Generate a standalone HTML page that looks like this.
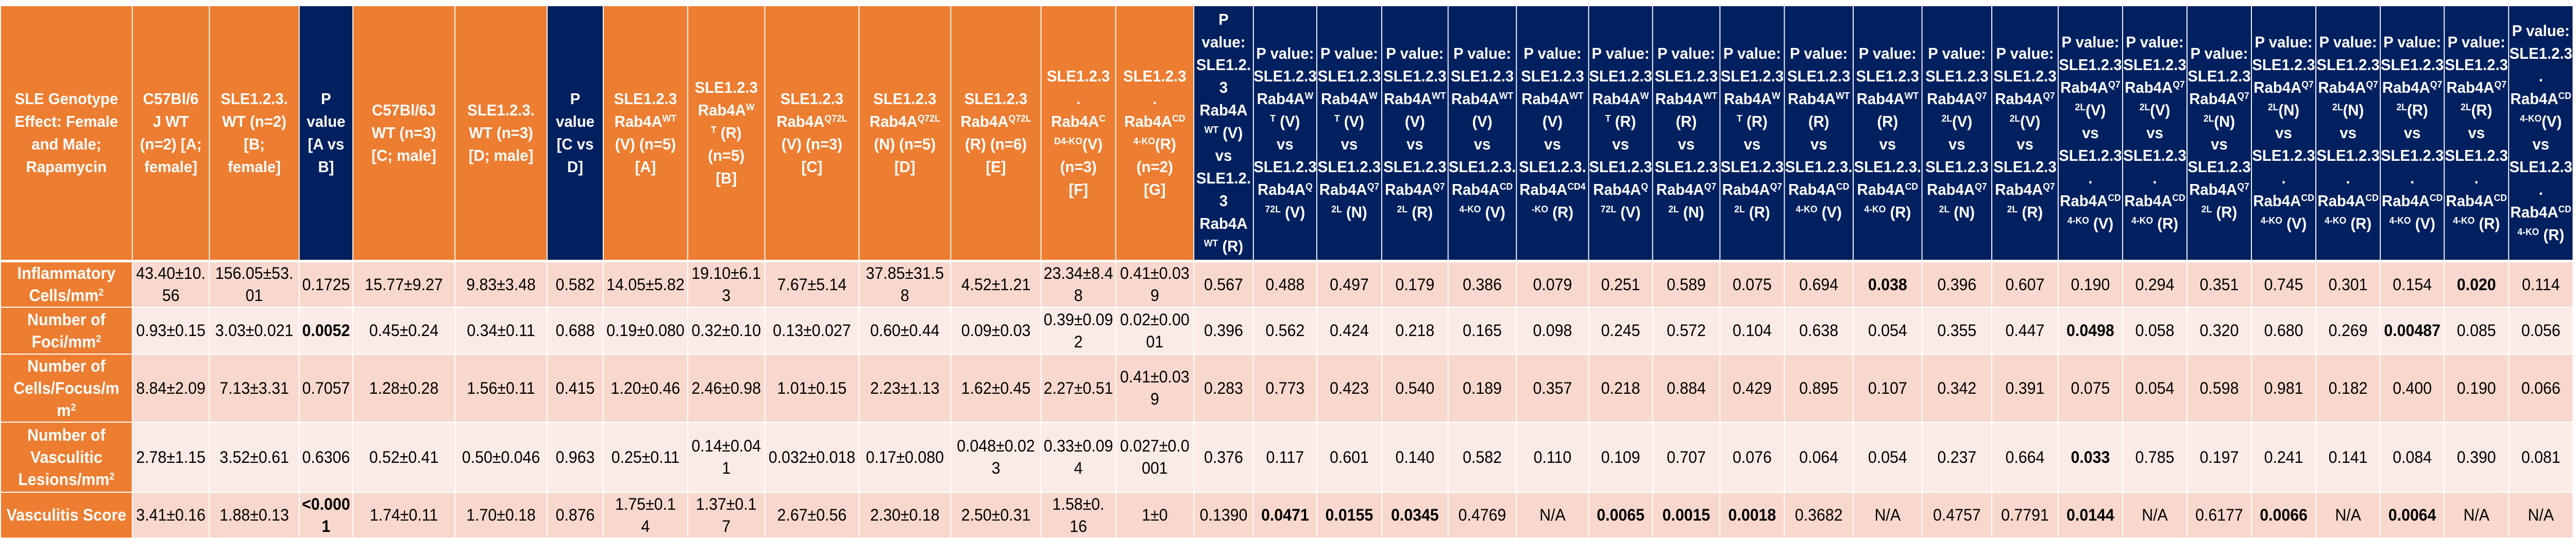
<!DOCTYPE html>
<html><head><meta charset="utf-8">
<style>
html{margin:0;padding:0;overflow:hidden;background:#fff;}
body{margin:0;padding:0;width:100vw;height:100vh;position:relative;overflow:hidden;background:#fff;font-family:"Liberation Sans",Arial,sans-serif;}
#wrap{position:absolute;left:0;top:0;width:5278px;height:1069px;overflow:hidden;transform-origin:0 0;}
.g{position:absolute;left:2px;top:12px;width:5271px;height:1045px;overflow:hidden;display:grid;column-gap:2px;row-gap:2px;
grid-template-columns:268px 156px 182px 108px 207px 187px 113px 171px 156px 191px 186px 183px 151px 158px 120px 128px 131px 134px 138px 146px 129px 136px 130px 139px 139px 141px 134px 130px 130px 130px 130px 130px 129px 130px 130px;
grid-template-rows:492px 1px 86px 89px 130px 134px 87px;}
.g>div{display:flex;align-items:center;justify-content:center;text-align:center;white-space:nowrap;min-width:0;overflow:visible;}
.g>div>span{display:block;}
.h{color:#fff;font-weight:bold;font-size:31px;line-height:44px;}
.o{background:#ED7D31;}
.n{background:#002060;}
.sp{grid-column:1/-1;background:#fff;}
.l{background:#ED7D31 !important;color:#fff;font-weight:bold;font-size:32px;line-height:43px;}
.a,.b{font-size:32px;line-height:43px;color:#000;}
.a{background:#F8D8CE;}
.b{background:#FBEBE6;}
sup{font-size:0.6em;line-height:0;vertical-align:0.55em;}
</style></head><body><div id="wrap">
<div class="g">
<div class="h o"><span>SLE Genotype<br>Effect: Female<br>and Male;<br>Rapamycin</span></div>
<div class="h o"><span>C57Bl/6<br>J WT<br>(n=2) [A;<br>female]</span></div>
<div class="h o"><span>SLE1.2.3.<br>WT (n=2)<br>[B;<br>female]</span></div>
<div class="h n"><span>P<br>value<br>[A vs<br>B]</span></div>
<div class="h o"><span>C57Bl/6J<br>WT (n=3)<br>[C; male]</span></div>
<div class="h o"><span>SLE1.2.3.<br>WT (n=3)<br>[D; male]</span></div>
<div class="h n"><span>P<br>value<br>[C vs<br>D]</span></div>
<div class="h o"><span>SLE1.2.3<br>Rab4A<sup>WT</sup><br>(V) (n=5)<br>[A]</span></div>
<div class="h o"><span>SLE1.2.3<br>Rab4A<sup>W</sup><br><sup>T</sup> (R)<br>(n=5)<br>[B]</span></div>
<div class="h o"><span>SLE1.2.3<br>Rab4A<sup>Q72L</sup><br>(V) (n=3)<br>[C]</span></div>
<div class="h o"><span>SLE1.2.3<br>Rab4A<sup>Q72L</sup><br>(N) (n=5)<br>[D]</span></div>
<div class="h o"><span>SLE1.2.3<br>Rab4A<sup>Q72L</sup><br>(R) (n=6)<br>[E]</span></div>
<div class="h o"><span>SLE1.2.3<br>.<br>Rab4A<sup>C</sup><br><sup>D4-KO</sup>(V)<br>(n=3)<br>[F]</span></div>
<div class="h o"><span>SLE1.2.3<br>.<br>Rab4A<sup>CD</sup><br><sup>4-KO</sup>(R)<br>(n=2)<br>[G]</span></div>
<div class="h n"><span>P<br>value:<br>SLE1.2.<br>3<br>Rab4A<br><sup>WT</sup> (V)<br>vs<br>SLE1.2.<br>3<br>Rab4A<br><sup>WT</sup> (R)</span></div>
<div class="h n"><span>P value:<br>SLE1.2.3<br>Rab4A<sup>W</sup><br><sup>T</sup> (V)<br>vs<br>SLE1.2.3<br>Rab4A<sup>Q</sup><br><sup>72L</sup> (V)</span></div>
<div class="h n"><span>P value:<br>SLE1.2.3<br>Rab4A<sup>W</sup><br><sup>T</sup> (V)<br>vs<br>SLE1.2.3<br>Rab4A<sup>Q7</sup><br><sup>2L</sup> (N)</span></div>
<div class="h n"><span>P value:<br>SLE1.2.3<br>Rab4A<sup>WT</sup><br>(V)<br>vs<br>SLE1.2.3<br>Rab4A<sup>Q7</sup><br><sup>2L</sup> (R)</span></div>
<div class="h n"><span>P value:<br>SLE1.2.3<br>Rab4A<sup>WT</sup><br>(V)<br>vs<br>SLE1.2.3.<br>Rab4A<sup>CD</sup><br><sup>4-KO</sup> (V)</span></div>
<div class="h n"><span>P value:<br>SLE1.2.3<br>Rab4A<sup>WT</sup><br>(V)<br>vs<br>SLE1.2.3.<br>Rab4A<sup>CD4</sup><br><sup>-KO</sup> (R)</span></div>
<div class="h n"><span>P value:<br>SLE1.2.3<br>Rab4A<sup>W</sup><br><sup>T</sup> (R)<br>vs<br>SLE1.2.3<br>Rab4A<sup>Q</sup><br><sup>72L</sup> (V)</span></div>
<div class="h n"><span>P value:<br>SLE1.2.3<br>Rab4A<sup>WT</sup><br>(R)<br>vs<br>SLE1.2.3<br>Rab4A<sup>Q7</sup><br><sup>2L</sup> (N)</span></div>
<div class="h n"><span>P value:<br>SLE1.2.3<br>Rab4A<sup>W</sup><br><sup>T</sup> (R)<br>vs<br>SLE1.2.3<br>Rab4A<sup>Q7</sup><br><sup>2L</sup> (R)</span></div>
<div class="h n"><span>P value:<br>SLE1.2.3<br>Rab4A<sup>WT</sup><br>(R)<br>vs<br>SLE1.2.3.<br>Rab4A<sup>CD</sup><br><sup>4-KO</sup> (V)</span></div>
<div class="h n"><span>P value:<br>SLE1.2.3<br>Rab4A<sup>WT</sup><br>(R)<br>vs<br>SLE1.2.3.<br>Rab4A<sup>CD</sup><br><sup>4-KO</sup> (R)</span></div>
<div class="h n"><span>P value:<br>SLE1.2.3<br>Rab4A<sup>Q7</sup><br><sup>2L</sup>(V)<br>vs<br>SLE1.2.3<br>Rab4A<sup>Q7</sup><br><sup>2L</sup> (N)</span></div>
<div class="h n"><span>P value:<br>SLE1.2.3<br>Rab4A<sup>Q7</sup><br><sup>2L</sup>(V)<br>vs<br>SLE1.2.3<br>Rab4A<sup>Q7</sup><br><sup>2L</sup> (R)</span></div>
<div class="h n"><span>P value:<br>SLE1.2.3<br>Rab4A<sup>Q7</sup><br><sup>2L</sup>(V)<br>vs<br>SLE1.2.3<br>.<br>Rab4A<sup>CD</sup><br><sup>4-KO</sup> (V)</span></div>
<div class="h n"><span>P value:<br>SLE1.2.3<br>Rab4A<sup>Q7</sup><br><sup>2L</sup>(V)<br>vs<br>SLE1.2.3<br>.<br>Rab4A<sup>CD</sup><br><sup>4-KO</sup> (R)</span></div>
<div class="h n"><span>P value:<br>SLE1.2.3<br>Rab4A<sup>Q7</sup><br><sup>2L</sup>(N)<br>vs<br>SLE1.2.3<br>Rab4A<sup>Q7</sup><br><sup>2L</sup> (R)</span></div>
<div class="h n"><span>P value:<br>SLE1.2.3<br>Rab4A<sup>Q7</sup><br><sup>2L</sup>(N)<br>vs<br>SLE1.2.3<br>.<br>Rab4A<sup>CD</sup><br><sup>4-KO</sup> (V)</span></div>
<div class="h n"><span>P value:<br>SLE1.2.3<br>Rab4A<sup>Q7</sup><br><sup>2L</sup>(N)<br>vs<br>SLE1.2.3<br>.<br>Rab4A<sup>CD</sup><br><sup>4-KO</sup> (R)</span></div>
<div class="h n"><span>P value:<br>SLE1.2.3<br>Rab4A<sup>Q7</sup><br><sup>2L</sup>(R)<br>vs<br>SLE1.2.3<br>.<br>Rab4A<sup>CD</sup><br><sup>4-KO</sup> (V)</span></div>
<div class="h n"><span>P value:<br>SLE1.2.3<br>Rab4A<sup>Q7</sup><br><sup>2L</sup>(R)<br>vs<br>SLE1.2.3<br>.<br>Rab4A<sup>CD</sup><br><sup>4-KO</sup> (R)</span></div>
<div class="h n"><span>P value:<br>SLE1.2.3<br>.<br>Rab4A<sup>CD</sup><br><sup>4-KO</sup>(V)<br>vs<br>SLE1.2.3<br>.<br>Rab4A<sup>CD</sup><br><sup>4-KO</sup> (R)</span></div>

<div class="sp"></div>

<div class="l"><span>Inflammatory<br>Cells/mm<sup>2</sup></span></div>
<div class="a"><span>43.40±10.<br>56</span></div><div class="a"><span>156.05±53.<br>01</span></div><div class="a"><span>0.1725</span></div><div class="a"><span>15.77±9.27</span></div><div class="a"><span>9.83±3.48</span></div><div class="a"><span>0.582</span></div><div class="a"><span>14.05±5.82</span></div><div class="a"><span>19.10±6.1<br>3</span></div><div class="a"><span>7.67±5.14</span></div><div class="a"><span>37.85±31.5<br>8</span></div><div class="a"><span>4.52±1.21</span></div><div class="a"><span>23.34±8.4<br>8</span></div><div class="a"><span>0.41±0.03<br>9</span></div><div class="a"><span>0.567</span></div>
<div class="a"><span>0.488</span></div><div class="a"><span>0.497</span></div><div class="a"><span>0.179</span></div><div class="a"><span>0.386</span></div><div class="a"><span>0.079</span></div><div class="a"><span>0.251</span></div><div class="a"><span>0.589</span></div><div class="a"><span>0.075</span></div><div class="a"><span>0.694</span></div><div class="a"><span><b>0.038</b></span></div><div class="a"><span>0.396</span></div><div class="a"><span>0.607</span></div><div class="a"><span>0.190</span></div><div class="a"><span>0.294</span></div><div class="a"><span>0.351</span></div><div class="a"><span>0.745</span></div><div class="a"><span>0.301</span></div><div class="a"><span>0.154</span></div><div class="a"><span><b>0.020</b></span></div><div class="a"><span>0.114</span></div>

<div class="l"><span>Number of<br>Foci/mm<sup>2</sup></span></div>
<div class="b"><span>0.93±0.15</span></div><div class="b"><span>3.03±0.021</span></div><div class="b"><span><b>0.0052</b></span></div><div class="b"><span>0.45±0.24</span></div><div class="b"><span>0.34±0.11</span></div><div class="b"><span>0.688</span></div><div class="b"><span>0.19±0.080</span></div><div class="b"><span>0.32±0.10</span></div><div class="b"><span>0.13±0.027</span></div><div class="b"><span>0.60±0.44</span></div><div class="b"><span>0.09±0.03</span></div><div class="b"><span>0.39±0.09<br>2</span></div><div class="b"><span>0.02±0.00<br>01</span></div><div class="b"><span>0.396</span></div>
<div class="b"><span>0.562</span></div><div class="b"><span>0.424</span></div><div class="b"><span>0.218</span></div><div class="b"><span>0.165</span></div><div class="b"><span>0.098</span></div><div class="b"><span>0.245</span></div><div class="b"><span>0.572</span></div><div class="b"><span>0.104</span></div><div class="b"><span>0.638</span></div><div class="b"><span>0.054</span></div><div class="b"><span>0.355</span></div><div class="b"><span>0.447</span></div><div class="b"><span><b>0.0498</b></span></div><div class="b"><span>0.058</span></div><div class="b"><span>0.320</span></div><div class="b"><span>0.680</span></div><div class="b"><span>0.269</span></div><div class="b"><span><b>0.00487</b></span></div><div class="b"><span>0.085</span></div><div class="b"><span>0.056</span></div>

<div class="l"><span>Number of<br>Cells/Focus/m<br>m<sup>2</sup></span></div>
<div class="a"><span>8.84±2.09</span></div><div class="a"><span>7.13±3.31</span></div><div class="a"><span>0.7057</span></div><div class="a"><span>1.28±0.28</span></div><div class="a"><span>1.56±0.11</span></div><div class="a"><span>0.415</span></div><div class="a"><span>1.20±0.46</span></div><div class="a"><span>2.46±0.98</span></div><div class="a"><span>1.01±0.15</span></div><div class="a"><span>2.23±1.13</span></div><div class="a"><span>1.62±0.45</span></div><div class="a"><span>2.27±0.51</span></div><div class="a"><span>0.41±0.03<br>9</span></div><div class="a"><span>0.283</span></div>
<div class="a"><span>0.773</span></div><div class="a"><span>0.423</span></div><div class="a"><span>0.540</span></div><div class="a"><span>0.189</span></div><div class="a"><span>0.357</span></div><div class="a"><span>0.218</span></div><div class="a"><span>0.884</span></div><div class="a"><span>0.429</span></div><div class="a"><span>0.895</span></div><div class="a"><span>0.107</span></div><div class="a"><span>0.342</span></div><div class="a"><span>0.391</span></div><div class="a"><span>0.075</span></div><div class="a"><span>0.054</span></div><div class="a"><span>0.598</span></div><div class="a"><span>0.981</span></div><div class="a"><span>0.182</span></div><div class="a"><span>0.400</span></div><div class="a"><span>0.190</span></div><div class="a"><span>0.066</span></div>

<div class="l"><span>Number of<br>Vasculitic<br>Lesions/mm<sup>2</sup></span></div>
<div class="b"><span>2.78±1.15</span></div><div class="b"><span>3.52±0.61</span></div><div class="b"><span>0.6306</span></div><div class="b"><span>0.52±0.41</span></div><div class="b"><span>0.50±0.046</span></div><div class="b"><span>0.963</span></div><div class="b"><span>0.25±0.11</span></div><div class="b"><span>0.14±0.04<br>1</span></div><div class="b"><span>0.032±0.018</span></div><div class="b"><span>0.17±0.080</span></div><div class="b"><span>0.048±0.02<br>3</span></div><div class="b"><span>0.33±0.09<br>4</span></div><div class="b"><span>0.027±0.0<br>001</span></div><div class="b"><span>0.376</span></div>
<div class="b"><span>0.117</span></div><div class="b"><span>0.601</span></div><div class="b"><span>0.140</span></div><div class="b"><span>0.582</span></div><div class="b"><span>0.110</span></div><div class="b"><span>0.109</span></div><div class="b"><span>0.707</span></div><div class="b"><span>0.076</span></div><div class="b"><span>0.064</span></div><div class="b"><span>0.054</span></div><div class="b"><span>0.237</span></div><div class="b"><span>0.664</span></div><div class="b"><span><b>0.033</b></span></div><div class="b"><span>0.785</span></div><div class="b"><span>0.197</span></div><div class="b"><span>0.241</span></div><div class="b"><span>0.141</span></div><div class="b"><span>0.084</span></div><div class="b"><span>0.390</span></div><div class="b"><span>0.081</span></div>

<div class="l"><span>Vasculitis Score</span></div>
<div class="a"><span>3.41±0.16</span></div><div class="a"><span>1.88±0.13</span></div><div class="a"><span><b>&lt;0.000<br>1</b></span></div><div class="a"><span>1.74±0.11</span></div><div class="a"><span>1.70±0.18</span></div><div class="a"><span>0.876</span></div><div class="a"><span>1.75±0.1<br>4</span></div><div class="a"><span>1.37±0.1<br>7</span></div><div class="a"><span>2.67±0.56</span></div><div class="a"><span>2.30±0.18</span></div><div class="a"><span>2.50±0.31</span></div><div class="a"><span>1.58±0.<br>16</span></div><div class="a"><span>1±0</span></div><div class="a"><span>0.1390</span></div>
<div class="a"><span><b>0.0471</b></span></div><div class="a"><span><b>0.0155</b></span></div><div class="a"><span><b>0.0345</b></span></div><div class="a"><span>0.4769</span></div><div class="a"><span>N/A</span></div><div class="a"><span><b>0.0065</b></span></div><div class="a"><span><b>0.0015</b></span></div><div class="a"><span><b>0.0018</b></span></div><div class="a"><span>0.3682</span></div><div class="a"><span>N/A</span></div><div class="a"><span>0.4757</span></div><div class="a"><span>0.7791</span></div><div class="a"><span><b>0.0144</b></span></div><div class="a"><span>N/A</span></div><div class="a"><span>0.6177</span></div><div class="a"><span><b>0.0066</b></span></div><div class="a"><span>N/A</span></div><div class="a"><span><b>0.0064</b></span></div><div class="a"><span>N/A</span></div><div class="a"><span>N/A</span></div>
</div>
</div>
<script>
(function(){
  var w=window.innerWidth||document.documentElement.clientWidth||5278;
  var h=window.innerHeight||document.documentElement.clientHeight||1069;
  var sx=w/5278, sy=h/1069;
  if(Math.abs(sx-1)>0.002||Math.abs(sy-1)>0.002){
    document.getElementById('wrap').style.transform='scale('+sx+','+sy+')';
  }
})();
</script>
</body></html>
